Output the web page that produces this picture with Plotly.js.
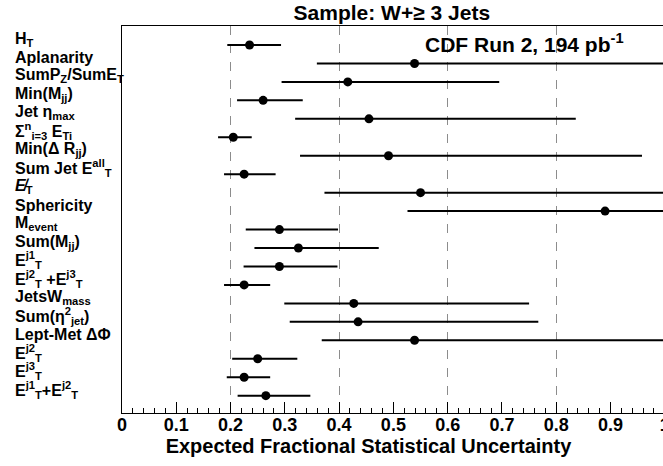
<!DOCTYPE html>
<html>
<head>
<meta charset="utf-8">
<script src="https://cdn.plot.ly/plotly-3.0.1.min.js"></script>
<style>
html, body { margin: 0; padding: 0; overflow: hidden; background: #fff; }
#chart { width: 680px; height: 466px; }
</style>
</head>
<body>
<div id="chart"></div>
<script>
// Variable names (top to bottom)
const labels = [
  "H<sub>T</sub>",
  "Aplanarity",
  "SumP<sub>Z</sub>/SumE<sub>T</sub>",
  "Min(M<sub>jj</sub>)",
  "Jet η<sub>max</sub>",
  "Σ<sup>n</sup><sub>i=3</sub> E<sub>Ti</sub>",
  "Min(Δ R<sub>jj</sub>)",
  "Sum Jet E<sup>all</sup><sub>T</sub>",
  "<i>E̸</i><sub>T</sub>",
  "Sphericity",
  "M<sub>event</sub>",
  "Sum(M<sub>jj</sub>)",
  "E<sup>j1</sup><sub>T</sub>",
  "E<sup>j2</sup><sub>T</sub> +E<sup>j3</sup><sub>T</sub>",
  "JetsW<sub>mass</sub>",
  "Sum(η<sup>2</sup><sub>jet</sub>)",
  "Lept-Met ΔΦ",
  "E<sup>j2</sup><sub>T</sub>",
  "E<sup>j3</sup><sub>T</sub>",
  "E<sup>j1</sup><sub>T</sub>+E<sup>j2</sup><sub>T</sub>"
];
// Expected fractional statistical uncertainty (central value)
const central = [0.235, 0.539, 0.416, 0.260, 0.455, 0.205, 0.491, 0.225, 0.550, 0.890,
                 0.290, 0.325, 0.290, 0.225, 0.427, 0.435, 0.539, 0.250, 0.225, 0.265];
// Lower end of the interval
const lowEnd  = [0.194, 0.359, 0.294, 0.212, 0.319, 0.177, 0.328, 0.188, 0.373, 0.526,
                 0.228, 0.244, 0.224, 0.188, 0.299, 0.309, 0.368, 0.203, 0.193, 0.213];
// Upper end of the interval (those past 1 run off the frame)
const highEnd = [0.293, 1.05, 0.695, 0.333, 0.836, 0.239, 0.958, 0.283, 1.06, 1.30,
                 0.398, 0.473, 0.397, 0.273, 0.750, 0.767, 1.05, 0.323, 0.273, 0.347];

const plotTitle = "Sample: W+≥ 3 Jets";
const xTitle = "Expected Fractional Statistical Uncertainty";
const runLabel = "CDF Run 2, 194 pb<sup>-1</sup>";

const FONT = "Liberation Sans, Arial, Helvetica, sans-serif";

const errPlus = central.map((v, i) => highEnd[i] - v);
const errMinus = central.map((v, i) => v - lowEnd[i]);

const traces = [
  {
    type: "scatter",
    mode: "markers",
    x: central,
    y: labels,
    marker: { color: "#000", size: 9 },
    error_x: {
      type: "data",
      symmetric: false,
      array: errPlus,
      arrayminus: errMinus,
      color: "#000",
      thickness: 2,
      width: 0
    },
    showlegend: false,
    hoverinfo: "x+y"
  },
  {
    type: "scatter",
    mode: "markers",
    x: [null],
    y: [labels[0]],
    xaxis: "x2",
    showlegend: false,
    hoverinfo: "skip"
  }
];

const labelAnnotations = labels.map(l => ({
  xref: "paper",
  yref: "y",
  x: -0.2007,
  y: l,
  text: "<b>" + l + "</b>",
  showarrow: false,
  xanchor: "left",
  yanchor: "middle",
  yshift: 6,
  font: { family: FONT, size: 16, color: "#000" }
}));

const layout = {
  width: 680,
  height: 466,
  margin: { l: 122, r: 15, t: 26, b: 53 },
  paper_bgcolor: "#fff",
  plot_bgcolor: "#fff",
  font: { family: FONT, color: "#000" },
  title: {
    text: plotTitle,
    font: { family: FONT, size: 21, weight: "bold", color: "#000" },
    xref: "paper",
    x: 0.497,
    xanchor: "center",
    yref: "container",
    y: 0.972,
    yanchor: "middle"
  },
  xaxis: {
    range: [0, 1.0004],
    tick0: 0,
    dtick: 0.1,
    ticks: "inside",
    ticklen: 11,
    tickwidth: 1,
    tickcolor: "#000",
    showline: true,
    linecolor: "#000",
    linewidth: 1,
    mirror: true,
    showgrid: false,
    zeroline: false,
    ticklabelstandoff: -5,
    tickfont: { family: FONT, size: 18, weight: "bold", color: "#000" },
    minor: { dtick: 0.02, ticks: "inside", ticklen: 5, tickcolor: "#000", showgrid: false },
    title: {
      text: xTitle + "\u00a0\u00a0\u00a0\u00a0\u00a0\u00a0\u00a0\u00a0\u00a0\u200b",
      font: { family: FONT, size: 20, weight: "bold", color: "#000" },
      standoff: 2
    }
  },
  xaxis2: {
    overlaying: "x",
    range: [0, 1.0004],
    tick0: 0,
    dtick: 0.2,
    showgrid: true,
    gridcolor: "#8c8c8c",
    griddash: "dash",
    gridwidth: 1,
    showticklabels: false,
    ticks: "",
    showline: false,
    zeroline: false
  },
  yaxis: {
    type: "category",
    categoryorder: "array",
    categoryarray: labels,
    range: [19.94, -1.03],
    showline: true,
    linecolor: "#000",
    linewidth: 1,
    ticks: "",
    showticklabels: false,
    showgrid: false,
    zeroline: false
  },
  annotations: labelAnnotations.concat([
    {
      xref: "paper",
      yref: "paper",
      x: 0.554,
      y: 0.955,
      xanchor: "left",
      yanchor: "middle",
      text: "<b>" + runLabel + "</b>",
      showarrow: false,
      font: { family: FONT, size: 21, color: "#000" }
    }
  ])
};

Plotly.newPlot("chart", traces, layout, { displayModeBar: false, staticPlot: true });
</script>
</body>
</html>
